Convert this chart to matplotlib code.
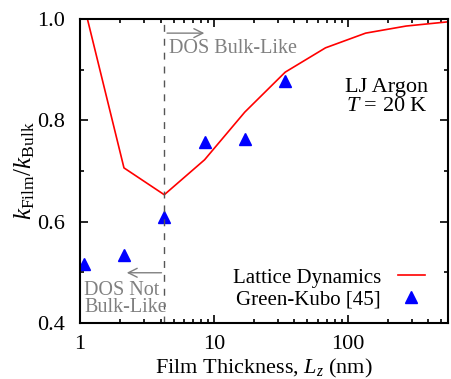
import matplotlib
matplotlib.use('Agg')
import matplotlib.pyplot as plt
from matplotlib.ticker import LogLocator, MultipleLocator, FixedLocator

plt.rcParams['font.family'] = ['Liberation Serif', 'DejaVu Serif']
plt.rcParams['mathtext.fontset'] = 'custom'
plt.rcParams['mathtext.rm'] = 'Liberation Serif'
plt.rcParams['mathtext.it'] = 'Liberation Serif:italic'
plt.rcParams['font.size'] = 16

# lattice dynamics (film thickness in nm, k_film / k_bulk)
ld_thickness = [1.065, 2.13, 4.26, 8.52, 17.0, 34.1, 68.2, 136, 273, 545]
ld_ratio = [1.03, 0.706, 0.653, 0.722, 0.816, 0.895, 0.943, 0.972, 0.986, 0.994]

# green-kubo [45]
gk_thickness = [1.065, 2.13, 4.26, 8.52, 17.0, 34.1]
gk_ratio = [0.516, 0.534, 0.609, 0.757, 0.763, 0.878]

dos_cut = 4.26

fig = plt.figure(figsize=(4.52, 3.79), dpi=100)
ax = fig.add_axes([0.177, 0.148, 0.814, 0.802])

ax.plot(ld_thickness, ld_ratio, color='red', lw=1.2, label='Lattice Dynamics')
ax.plot(gk_thickness, gk_ratio, ls='none', marker='^', ms=9, color='blue',
        label='Green-Kubo [45]')

ax.axvline(dos_cut, color='#555555', ls=(0, (5, 5)), lw=1)
ax.annotate('', xy=(8.9, 0.972), xytext=(dos_cut, 0.972),
            arrowprops=dict(arrowstyle='->', color='grey', lw=1))
ax.text(4.6, 0.942, 'DOS Bulk-Like', color='grey', va='center', ha='left',
        fontsize=14.5)
ax.annotate('', xy=(2.13, 0.499), xytext=(dos_cut, 0.499),
            arrowprops=dict(arrowstyle='->', color='grey', lw=1))
ax.text(1.07, 0.447, 'DOS Not\nBulk-Like', color='grey', va='center', ha='left',
        linespacing=0.85, fontsize=14.5)

ax.text(195, 0.846, 'LJ Argon\n$T$ = 20 K', ha='center', va='center', linespacing=1.0)

ax.set_xscale('log')
ax.set_xlim(1, 560)
ax.set_ylim(0.4, 1.0)
ax.xaxis.set_major_locator(FixedLocator([1, 10, 100]))
ax.xaxis.set_minor_locator(LogLocator(base=10, subs=range(2, 10), numticks=20))
ax.set_xticklabels(['1', '10', '100'])
ax.yaxis.set_major_locator(MultipleLocator(0.2))
ax.yaxis.set_minor_locator(MultipleLocator(0.1))
ax.set_yticklabels([f'{v:.1f}' for v in ax.get_yticks()])
ax.tick_params(which='both', direction='in', top=True, right=True, width=1.2)
ax.tick_params(which='major', length=6)
ax.tick_params(which='minor', length=3)
ax.tick_params(axis='x', which='major', pad=9)
ax.tick_params(axis='y', which='major', pad=11)
for s in ax.spines.values():
    s.set_linewidth(1.5)

ax.set_xlabel('Film Thickness, $L_z$ (nm)', labelpad=2)
ax.set_ylabel('$k_{\\mathrm{Film}}/k_{\\mathrm{Bulk}}$', labelpad=0, fontsize=18)

ax.legend(loc='lower right', bbox_to_anchor=(0.965, 0.01), frameon=False,
          markerfirst=False, handlelength=1.3, handletextpad=0.8,
          labelspacing=0.1, borderpad=0, fontsize=15)

fig.savefig('out.png', dpi=100)
